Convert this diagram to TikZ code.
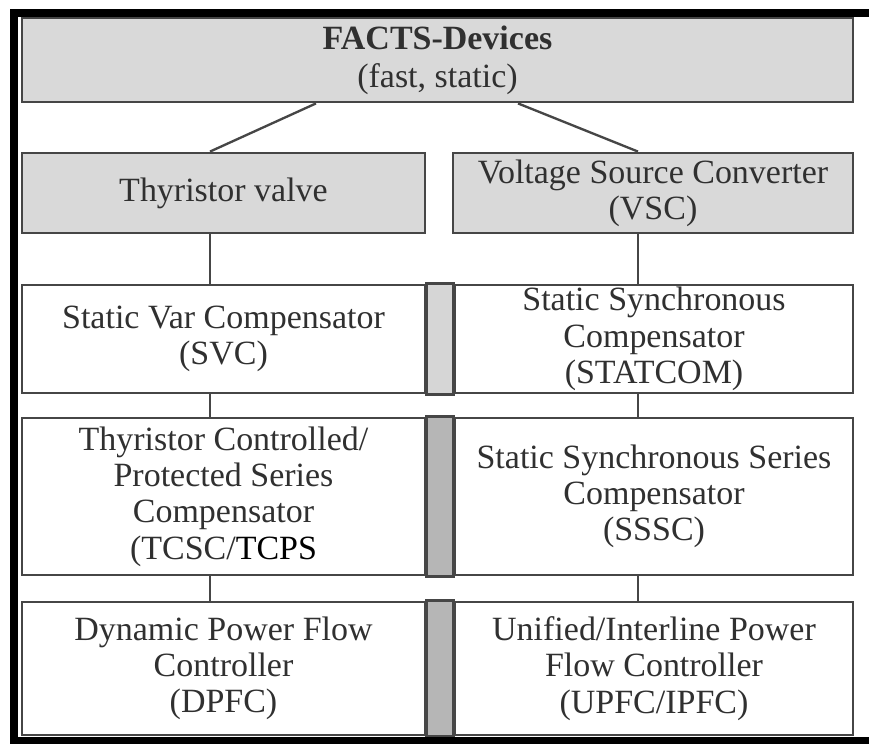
\documentclass[tikz,border=0pt]{standalone}
\usepackage{fontspec}
\setmainfont{Liberation Serif}
\definecolor{boxgray}{RGB}{217,217,217}
\definecolor{stripgray}{RGB}{214,214,214}
\definecolor{stripdark}{RGB}{182,182,182}
\definecolor{edgegray}{RGB}{70,70,70}
\definecolor{textgray}{RGB}{48,48,48}

\begin{document}
\begin{tikzpicture}[y=-1cm,
  devbox/.style={draw=edgegray, line width=2.4pt, fill=white, inner sep=0pt, align=center,
    text=textgray, font=\fontsize{29}{31}\selectfont},
  headbox/.style={devbox, fill=boxgray},
  link/.style={draw=edgegray, line width=2pt},
  strip/.style={draw=edgegray, line width=2.4pt}]
\useasboundingbox (0,0) rectangle (26.07,22.32);
\coordinate (lx) at (6.3,0);
\coordinate (rx) at (19.14,0);
\coordinate (fl) at (9.48,0);
\coordinate (fr) at (15.54,0);
\node[headbox, minimum width=24.93cm, minimum height=2.52cm] (facts) at (13.125,1.8) {\textbf{FACTS-Devices}\\[1.5pt](fast, static)};
\node[headbox, minimum width=12.09cm, minimum height=2.4cm] (thy) at (6.705,5.79) {Thyristor valve};
\node[headbox, minimum width=12cm, minimum height=2.4cm] (vsc) at (19.59,5.79) {Voltage Source Converter\\(VSC)};
\node[devbox, minimum width=12.09cm, minimum height=3.24cm] (svc) at (6.705,10.17) {Static Var Compensator\\(SVC)};
\node[devbox, minimum width=11.94cm, minimum height=3.24cm] (statcom) at (19.62,10.17) {Static Synchronous\\Compensator\\(STATCOM)};
\node[devbox, minimum width=12.09cm, minimum height=4.71cm] (tcsc) at (6.705,14.895) {Thyristor Controlled/\\Protected Series\\Compensator\\(TCSC/{\color{black}TCPS}};
\node[devbox, minimum width=11.94cm, minimum height=4.71cm] (sssc) at (19.62,14.895) {Static Synchronous Series\\Compensator\\(SSSC)};
\node[devbox, minimum width=12.09cm, minimum height=3.99cm] (dpfc) at (6.705,20.055) {Dynamic Power Flow\\Controller\\(DPFC)};
\node[devbox, minimum width=11.94cm, minimum height=3.99cm] (upfc) at (19.62,20.055) {Unified/Interline Power\\Flow Controller\\(UPFC/IPFC)};
\filldraw[strip, fill=stripgray] (svc.north east) rectangle (statcom.south west);
\filldraw[strip, fill=stripdark] (tcsc.north east) rectangle (sssc.south west);
\filldraw[strip, fill=stripdark] (dpfc.north east) rectangle (upfc.south west);
\draw[link] (facts.south -| fl) -- (thy.north -| lx);
\draw[link] (facts.south -| fr) -- (vsc.north -| rx);
\draw[link] (thy.south -| lx) -- (svc.north -| lx);
\draw[link] (vsc.south -| rx) -- (statcom.north -| rx);
\draw[link] (svc.south -| lx) -- (tcsc.north -| lx);
\draw[link] (statcom.south -| rx) -- (sssc.north -| rx);
\draw[link] (tcsc.south -| lx) -- (dpfc.north -| lx);
\draw[link] (sssc.south -| rx) -- (upfc.north -| rx);
\draw[line width=0.24cm] (0.42,22.26) -- (0.42,0.39) -- (26.07,0.39);
\draw[line width=0.24cm] (0.3,22.22) -- (26.07,22.22);
\end{tikzpicture}
\end{document}
